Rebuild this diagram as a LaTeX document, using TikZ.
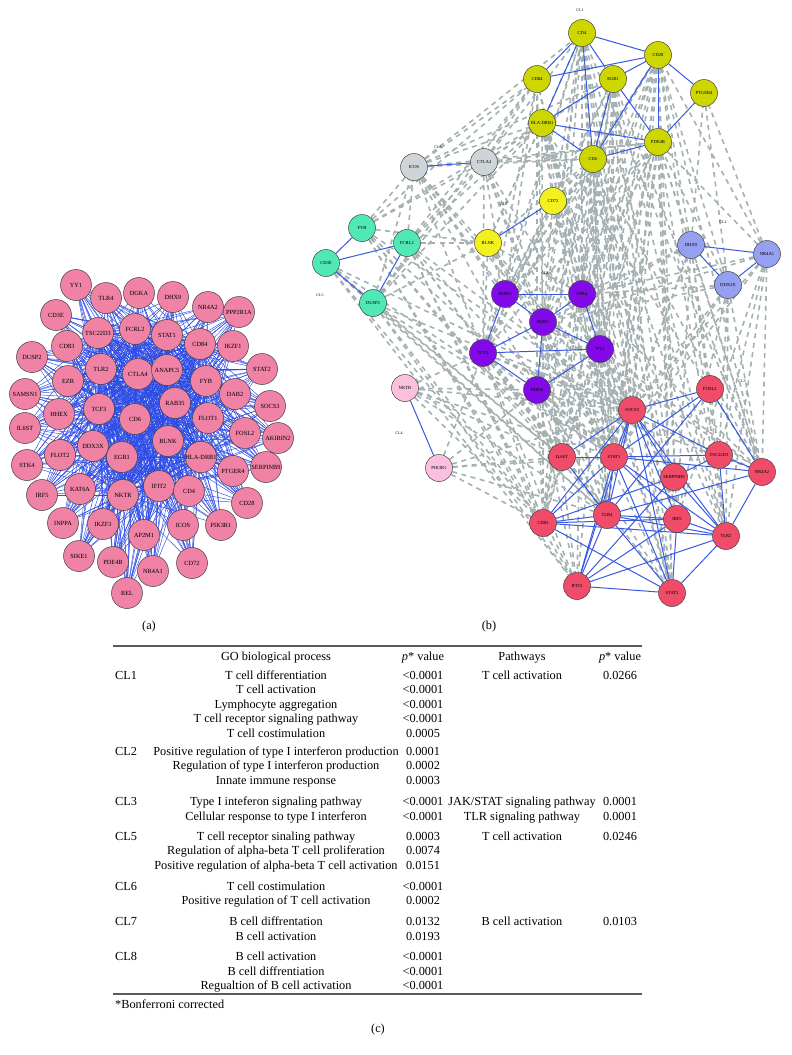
\documentclass[tikz,border=0pt]{standalone}
\usepackage{fontspec}
\setmainfont{Liberation Serif}
\pgfdeclarelayer{edges}
\pgfsetlayers{edges,main}
\definecolor{apink}{RGB}{240,130,165}
\definecolor{ablue}{RGB}{45,75,230}
\definecolor{bblue}{RGB}{55,90,225}
\definecolor{dgrey}{RGB}{165,176,176}
\definecolor{cla}{RGB}{206,214,0}
\definecolor{clb}{RGB}{150,160,240}
\definecolor{clc}{RGB}{240,75,105}
\definecolor{cld}{RGB}{250,192,222}
\definecolor{cle}{RGB}{80,232,180}
\definecolor{clf}{RGB}{206,212,216}
\definecolor{clg}{RGB}{242,240,30}
\definecolor{clh}{RGB}{130,10,232}
\definecolor{rulegrey}{RGB}{90,90,90}
\newcommand{\tabrow}[5]{%
  \node[tabtxt] at (276,#1+4) {#2};
  \node[tabtxt] at (423,#1+4) {#3};
  \node[tabtxt] at (522,#1+4) {#4};
  \node[tabtxt] at (620,#1+4) {#5};
}
\begin{document}
\begin{tikzpicture}[x=1pt,y=-1pt,
  anode/.style={circle,draw=black!75,line width=0.5pt,fill=apink,minimum size=31pt,inner sep=0pt,font=\fontsize{6.3}{7}\selectfont},
  bnode/.style={circle,draw=black!75,line width=0.5pt,minimum size=27pt,inner sep=0pt,font=\fontsize{4.6}{5}\selectfont},
  aedge/.style={draw=ablue,line width=0.45pt},
  bedge/.style={draw=bblue,line width=1pt},
  dedge/.style={draw=dgrey,line width=1.6pt,dash pattern=on 5pt off 4.5pt},
  cllab/.style={font=\fontsize{4}{5}\selectfont,inner sep=0pt},
  panlab/.style={font=\fontsize{12.3}{14}\selectfont,inner sep=0pt},
  tabtxt/.style={font=\fontsize{12.3}{14}\selectfont,inner sep=0pt,anchor=base},
  tabrule/.style={draw=rulegrey,line width=1.2pt}
]
\useasboundingbox (0,0) rectangle (792,1055);

% ---------------- panel (a) ----------------
\foreach \n/\t/\x/\y in {YY1/YY1/76/285, TLR4/TLR4/106/298, DGKA/DGKA/139/293, DHX9/DHX9/173/297,
  NR4A2/NR4A2/208/307, PPP2R1A/PPP2R1A/239/312, CD3E/CD3E/56/315, TSC22D3/TSC22D3/98/333,
  FCRL2/FCRL2/135/329, STAT1/STAT1/167/335, CD84/CD84/200/344, IKZF1/IKZF1/233/346,
  CD83/CD83/67/346, DUSP2/DUSP2/32/357, TLR2/TLR2/101/369, CTLA4/CTLA4/138/374,
  ANAPC5/ANAPC5/167/370, FYB/FYB/206/381, STAT2/STAT2/262/369, DAB2/DAB2/235/394,
  SOCS3/SOCS3/270/406, EZR/EZR/68/381, SAMSN1/SAMSN1/25/394, RAB35/RAB35/175/403,
  TCF3/TCF3/99/409, HHEX/HHEX/59/414, CD6/CD6/135/419, IL6ST/IL6ST/25/428,
  FLOT1/FLOT1/208/418, FOSL2/FOSL2/245/433, AKIRIN2/AKIRIN2/278/438, BLNK/BLNK/168/441,
  DDX3X/DDX3X/93/446, FLOT2/FLOT2/60/455, EGR1/EGR1/122/457, STK4/STK4/27/465,
  HLA/HLA-DRB1/201/457, PTGER4/PTGER4/233/471, SERPINB9/SERPINB9/266/467, IRF5/IRF5/42/495,
  KAT6A/KAT6A/80/489, NKTR/NKTR/123/495, IFIT2/IFIT2/159/486, CD4/CD4/189/491,
  CD28/CD28/247/503, INPPA/INPPA/63/523, IKZF3/IKZF3/103/524, AP2M1/AP2M1/144/535,
  ICOS/ICOS/183/525, PIK3R1/PIK3R1/221/525, SIKE1/SIKE1/79/556, PDE4B/PDE4B/113/562,
  NR4A1/NR4A1/153/571, CD72/CD72/192/563, REL/REL/127/593}
  \node[anode] (a\n) at (\x,\y) {\t};

\begin{pgfonlayer}{edges}
\foreach \h in {CTLA4,CD6,TLR2,TCF3,ANAPC5,BLNK,EGR1,RAB35,FYB,FCRL2,TSC22D3,HLA,IFIT2,NKTR,STAT1,CD84}
  \foreach \n in {YY1,TLR4,DGKA,DHX9,NR4A2,PPP2R1A,CD3E,TSC22D3,FCRL2,STAT1,CD84,IKZF1,CD83,DUSP2,TLR2,CTLA4,ANAPC5,FYB,STAT2,DAB2,SOCS3,EZR,SAMSN1,RAB35,TCF3,HHEX,CD6,IL6ST,FLOT1,FOSL2,AKIRIN2,BLNK,DDX3X,FLOT2,EGR1,STK4,HLA,PTGER4,SERPINB9,IRF5,KAT6A,NKTR,IFIT2,CD4,CD28,INPPA,IKZF3,AP2M1,ICOS,PIK3R1,SIKE1,PDE4B,NR4A1,CD72,REL}
    \draw[aedge] (a\h.center) -- (a\n.center);
\end{pgfonlayer}

\node[panlab] (laba) at (149,627) {(a)};

% ---------------- panel (b) ----------------
\foreach \n/\t/\x/\y/\c in {CD4/CD4/582/33/cla, CD28/CD28/658/55/cla, CD84/CD84/537/79/cla,
  EGR1/EGR1/613/79/cla, PTGER4/PTGER4/704/93/cla, HLA/HLA-DRB1/542/123/cla,
  PDE4B/PDE4B/658/142/cla, CD6/CD6/593/159/cla,
  ICOS/ICOS/414/167/clf, CTLA4/CTLA4/484/162/clf,
  CD72/CD72/553/201/clg, BLNK/BLNK/488/243/clg,
  FYB/FYB/362/228/cle, FCRL2/FCRL2/407/243/cle, CD3E/CD3E/326/263/cle, DUSP2/DUSP2/373/303/cle,
  IKZF3/IKZF3/505/294/clh, STK4/STK4/582/294/clh, IKZF1/IKZF1/543/322/clh, TCF3/TCF3/483/353/clh,
  YY1/YY1/600/349/clh, HHEX/HHEX/537/390/clh,
  DHX9/DHX9/691/245/clb, NR4A1/NR4A1/767/254/clb, DDX3X/DDX3X/728/285/clb,
  NKTR/NKTR/405/388/cld, PIK3R1/PIK3R1/439/468/cld,
  FOSL2/FOSL2/710/389/clc, SOCS3/SOCS3/632/410/clc, IL6ST/IL6ST/562/457/clc, STAT1/STAT1/614/457/clc,
  TSC22D3/TSC22D3/719/455/clc, NR4A2/NR4A2/762/472/clc, SERPINB9/SERPINB9/674/477/clc,
  CD83/CD83/543/523/clc, TLR4/TLR4/607/515/clc, IRF5/IRF5/677/519/clc, TLR2/TLR2/726/536/clc,
  IFIT2/IFIT2/577/586/clc, STAT2/STAT2/672/593/clc}
  \node[bnode,fill=\c] (b\n) at (\x,\y) {\t};

\node[cllab] (cl1) at (580,10) {CL1};
\node[cllab] (cl6) at (438,147) {CL6};
\node[cllab] (cl7) at (504,204) {CL7};
\node[cllab] (cl5) at (320,295) {CL5};
\node[cllab] (cl8) at (545,273) {CL8};
\node[cllab] (cl2) at (723,222) {CL2};
\node[cllab] (cl3) at (742,381) {CL3};
\node[cllab] (cl4) at (399,433) {CL4};

\begin{pgfonlayer}{edges}
% inter-cluster dashed edges
\foreach \u in {CD4,EGR1,CD28,PDE4B,CD6,HLA}
  \foreach \v in {SOCS3,STAT1,TLR4,TLR2,IRF5,STAT2,NR4A2,CD83}
    \draw[dedge] (b\u) -- (b\v);
\foreach \u in {IKZF3,STK4,IKZF1,TCF3,YY1,HHEX}
  \foreach \v in {CD4,EGR1,CD28,PDE4B,CD6,CD84}
    \draw[dedge] (b\u) -- (b\v);
\foreach \u in {IKZF1,YY1,HHEX,STK4,TCF3}
  \foreach \v in {SOCS3,STAT1,TLR4,IL6ST,CD83,IFIT2,STAT2,NR4A2}
    \draw[dedge] (b\u) -- (b\v);
\foreach \u in {FYB,CD3E,FCRL2,DUSP2}
  \foreach \v in {STAT1,TLR4,CD83,IFIT2,SOCS3,IL6ST}
    \draw[dedge] (b\u) -- (b\v);
\foreach \u in {FYB,FCRL2,DUSP2}
  \foreach \v in {CTLA4,ICOS,CD84,HLA,BLNK}
    \draw[dedge] (b\u) -- (b\v);
\foreach \u in {ICOS,CTLA4}
  \foreach \v in {CD4,CD84,HLA,CD6,EGR1,PDE4B,IKZF3,IKZF1,TCF3,STAT1,TLR4,SOCS3}
    \draw[dedge] (b\u) -- (b\v);
\foreach \u in {DHX9,NR4A1,DDX3X}
  \foreach \v in {SOCS3,STAT1,TLR2,NR4A2,TSC22D3,IRF5,CD28,PDE4B,PTGER4,STK4,IKZF1}
    \draw[dedge] (b\u) -- (b\v);
\foreach \u in {PIK3R1,NKTR}
  \foreach \v in {TCF3,STAT1,TLR4,IL6ST,CD83,HHEX,SOCS3}
    \draw[dedge] (b\u) -- (b\v);
\foreach \u in {BLNK,CD72}
  \foreach \v in {IKZF3,IKZF1,STK4,TCF3,CD4,CD6,HLA,SOCS3,STAT1}
    \draw[dedge] (b\u) -- (b\v);
% intra-cluster solid edges
\foreach \u/\v in {CD4/CD28, CD4/CD84, CD4/EGR1, CD4/HLA, CD4/CD6, CD84/CD28, EGR1/CD28,
  EGR1/HLA, EGR1/PDE4B, EGR1/CD6, CD28/PTGER4, CD28/PDE4B, CD28/CD6, PTGER4/PDE4B,
  HLA/PDE4B, HLA/CD6, CD6/PDE4B,
  ICOS/CTLA4, BLNK/CD72,
  FYB/CD3E, CD3E/FCRL2, CD3E/DUSP2, FCRL2/DUSP2,
  IKZF3/STK4, IKZF3/IKZF1, IKZF3/TCF3, STK4/IKZF1, STK4/YY1, IKZF1/TCF3, IKZF1/YY1,
  IKZF1/HHEX, TCF3/YY1, TCF3/HHEX, HHEX/YY1,
  DHX9/NR4A1, DHX9/DDX3X, DDX3X/NR4A1,
  NKTR/PIK3R1,
  SOCS3/FOSL2, SOCS3/IL6ST, SOCS3/STAT1, SOCS3/TSC22D3, SOCS3/TLR4, SOCS3/IRF5, SOCS3/STAT2,
  SOCS3/TLR2, SOCS3/CD83, SOCS3/SERPINB9, SOCS3/IFIT2, FOSL2/NR4A2, FOSL2/TLR4, FOSL2/STAT1,
  IL6ST/STAT1, IL6ST/TLR4, STAT1/TSC22D3, STAT1/NR4A2, STAT1/TLR4, STAT1/IRF5, STAT1/TLR2,
  STAT1/STAT2, STAT1/IFIT2, STAT1/CD83, TSC22D3/NR4A2, TSC22D3/TLR2, TSC22D3/SERPINB9,
  NR4A2/TLR2, NR4A2/TLR4, SERPINB9/TLR2, SERPINB9/CD83, SERPINB9/IFIT2, TLR4/CD83, TLR4/IRF5,
  TLR4/TLR2, TLR4/IFIT2, TLR4/STAT2, CD83/IRF5, CD83/TLR2, CD83/STAT2, IRF5/IFIT2, IRF5/STAT2,
  IRF5/TLR2, TLR2/IFIT2, TLR2/STAT2, IFIT2/STAT2}
  \draw[bedge] (b\u) -- (b\v);
\end{pgfonlayer}

\node[panlab] (labb) at (489,627) {(b)};

% ---------------- panel (c) ----------------
\draw[tabrule] (113,646) -- (642,646);
\node[tabtxt] (h1) at (276,660) {GO biological process};
\node[tabtxt] (h2) at (423,660) {\textit{p}* value};
\node[tabtxt] (h3) at (522,660) {Pathways};
\node[tabtxt] (h4) at (620,660) {\textit{p}* value};

\foreach \g/\y in {CL1/675, CL2/751, CL3/801.5, CL5/836, CL6/886, CL7/921.5, CL8/956.5}
  \node[tabtxt,anchor=base west] (g\g) at (115,\y+4) {\g};

\tabrow{675}{T cell differentiation}{<0.0001}{T cell activation}{0.0266}
\tabrow{689.5}{T cell activation}{<0.0001}{}{}
\tabrow{704}{Lymphocyte aggregation}{<0.0001}{}{}
\tabrow{718.5}{T cell receptor signaling pathway}{<0.0001}{}{}
\tabrow{733}{T cell costimulation}{0.0005}{}{}
\tabrow{751}{Positive regulation of type I interferon production}{0.0001}{}{}
\tabrow{765.5}{Regulation of type I interferon production}{0.0002}{}{}
\tabrow{780}{Innate immune response}{0.0003}{}{}
\tabrow{801.5}{Type I inteferon signaling pathway}{<0.0001}{JAK/STAT signaling pathway}{0.0001}
\tabrow{816}{Cellular response to type I interferon}{<0.0001}{TLR signaling pathway}{0.0001}
\tabrow{836}{T cell receptor sinaling pathway}{0.0003}{T cell activation}{0.0246}
\tabrow{850.5}{Regulation of alpha-beta T cell proliferation}{0.0074}{}{}
\tabrow{865}{Positive regulation of alpha-beta T cell activation}{0.0151}{}{}
\tabrow{886}{T cell costimulation}{<0.0001}{}{}
\tabrow{900.5}{Positive regulation of T cell activation}{0.0002}{}{}
\tabrow{921.5}{B cell diffrentation}{0.0132}{B cell activation}{0.0103}
\tabrow{936}{B cell activation}{0.0193}{}{}
\tabrow{956.5}{B cell activation}{<0.0001}{}{}
\tabrow{971}{B cell diffrentiation}{<0.0001}{}{}
\tabrow{985.5}{Regualtion of B cell activation}{<0.0001}{}{}

\draw[tabrule] (113,994) -- (642,994);
\node[tabtxt,anchor=base west] (bonf) at (115,1008) {*Bonferroni corrected};
\node[panlab] (labc) at (378,1030) {(c)};
\end{tikzpicture}
\end{document}
